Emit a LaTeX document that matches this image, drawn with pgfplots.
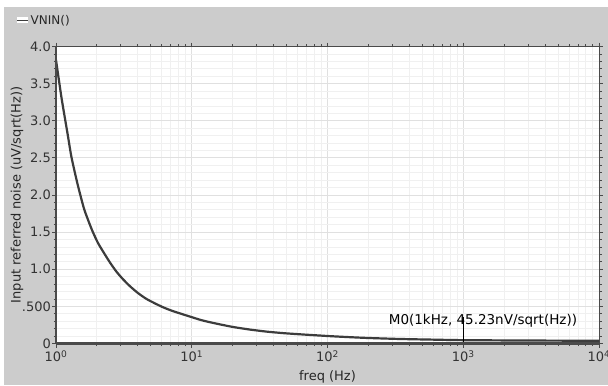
\documentclass[border=0pt]{standalone}
\usepackage{fontspec}
\setmainfont{DejaVu Sans}
\usepackage{pgfplots}
\pgfplotsset{compat=1.18}
\definecolor{bg}{HTML}{CCCCCC}
\definecolor{curve}{HTML}{3C3C3C}
\definecolor{axl}{HTML}{4A4A4A}
\definecolor{gmaj}{HTML}{E0E0E0}
\definecolor{gmin}{HTML}{F0F0F0}
\pgfplotstableread{
f V
1 3.82
1.1 3.30
1.218 2.82
1.3 2.51
1.44 2.15
1.6 1.83
1.71 1.68
1.85 1.52
2.03 1.36
2.22 1.24
2.5 1.09
2.79 0.967
3.1 0.87
3.49 0.775
4 0.682
4.64 0.600
5.5 0.530
6.15 0.488
7 0.447
8.17 0.406
10 0.355
11.5 0.320
13 0.295
16.1 0.258
20.2 0.222
27 0.187
35.6 0.160
47 0.140
62.7 0.124
100 0.101
140 0.087
195 0.075
340 0.061
600 0.052
1000 0.045
3000 0.040
10000 0.037
}\noisedata
\begin{document}
\begin{tikzpicture}[x=1bp,y=1bp]
\useasboundingbox (0,0) rectangle (608,385);
\fill[white] (0,0) rectangle (608,385);
\fill[bg] (4,0) rectangle (608,378);
\fill[white] (17.3,361.7) rectangle (28.3,367.7);
\draw[curve, line width=1.5bp] (17.3,364.7) -- (28.3,364.7);
\node[anchor=west, inner sep=0pt, font=\fontsize{12bp}{14bp}\selectfont, text=black!85] at (30.5,364.5) {VNIN()};
\begin{axis}[
  at={(56bp,41.5bp)}, anchor=south west,
  scale only axis, width=543bp, height=297bp,
  xmode=log, xmin=1, xmax=10000, ymin=0, ymax=4,
  xtick={1,10,100,1000,10000},
  xticklabels={10\textsuperscript{0},10\textsuperscript{1},10\textsuperscript{2},10\textsuperscript{3},10\textsuperscript{4}},
  ytick={0,0.5,1,1.5,2,2.5,3,3.5,4},
  yticklabels={0,.500,1.0,1.5,2.0,2.5,3.0,3.5,4.0},
  minor y tick num=4,
  grid=both,
  major grid style={draw=gmaj, line width=1bp},
  minor grid style={draw=gmin, line width=0.8bp},
  tick align=outside,
  major tick length=4bp, minor tick length=2.5bp,
  tick style={draw=axl, line width=0.8bp},
  axis background/.style={fill=white},
  axis line style={draw=axl, line width=0.8bp},
  tick label style={font=\fontsize{13bp}{15bp}\selectfont, text=black!80},
  yticklabel style={anchor=east, inner sep=0pt, xshift=-1bp},
  xticklabel style={anchor=north, inner sep=0pt, yshift=-3bp},
  xlabel={freq (Hz)},
  ylabel={Input referred noise (uV/sqrt(Hz))},
  every axis x label/.style={at={(axis description cs:0.5,-0.1128)}, anchor=center, font=\fontsize{13bp}{15bp}\selectfont, text=black!85},
  every axis y label/.style={at={(axis description cs:-0.0718,0.5)}, rotate=90, anchor=center, font=\fontsize{13bp}{15bp}\selectfont, text=black!85},
  clip=false,
]
\addplot[curve, line width=2.2bp, smooth, tension=0.4] table[x=f, y=V] {\noisedata};
\addplot[black, line width=0.8bp] coordinates {(1000,0) (1000,0.36)};
\draw[axl, line width=2.2bp] (rel axis cs:0,0) -- (rel axis cs:1,0);
\draw[axl, line width=1.6bp] (rel axis cs:0,0) -- (rel axis cs:0,1);
\node[font=\fontsize{13.5bp}{15bp}\selectfont, text=black, inner sep=0pt] at (axis cs:1397,0.303) {M0(1kHz, 45.23nV/sqrt(Hz))};
\end{axis}
\end{tikzpicture}
\end{document}
